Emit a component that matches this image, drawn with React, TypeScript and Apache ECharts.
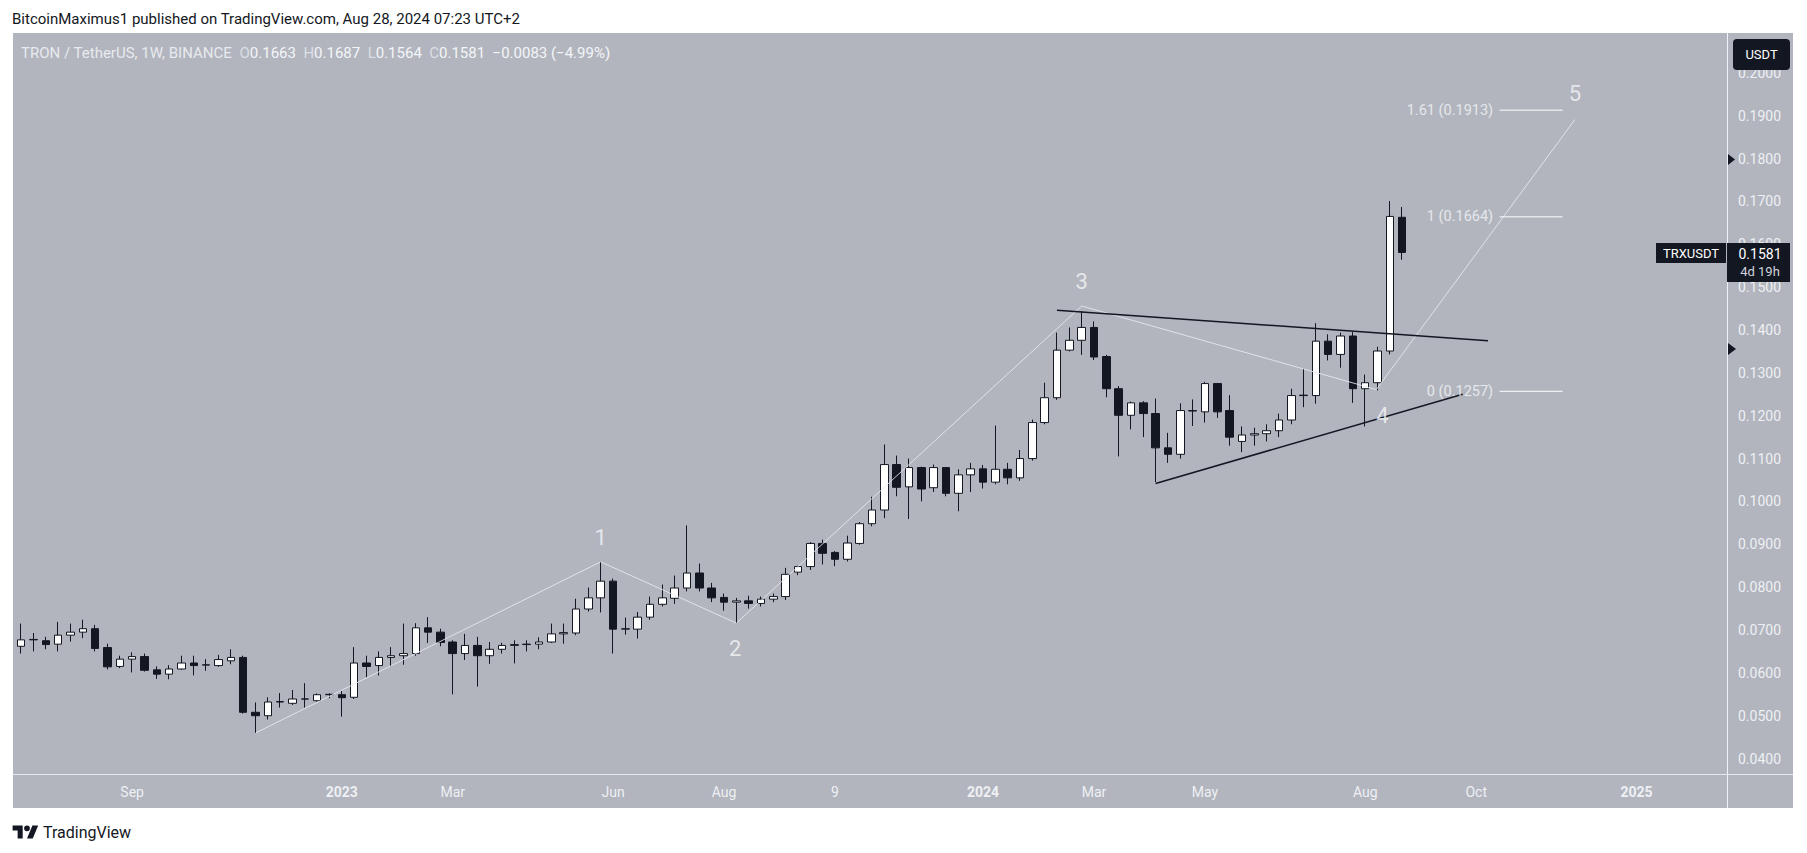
import React, { useEffect, useRef } from "react";
import * as echarts from "echarts";

// ---------- DATA ----------
const START_MS = Date.UTC(2022, 6, 4); // first weekly bar (Mon 4 Jul 2022)
const WEEK_COUNT = 139;
const categories: string[] = Array.from({ length: WEEK_COUNT }, (_, i) =>
  new Date(START_MS + i * 7 * 86400000).toISOString().slice(0, 10)
);

const opens = [
  0.0662, 0.0677, 0.0675, 0.0667, 0.0688, 0.0695, 0.0703, 0.0659, 0.0615, 0.0632,
  0.0638, 0.0607, 0.0597, 0.0609, 0.0623, 0.0618, 0.0617, 0.0628, 0.0636, 0.0508,
  0.0500, 0.0532, 0.0529, 0.0539, 0.0535, 0.0549, 0.0549, 0.0543, 0.0623, 0.0617,
  0.0636, 0.0640, 0.0645, 0.0705, 0.0695, 0.0672, 0.0645, 0.0664, 0.0640, 0.0655,
  0.0664, 0.0666, 0.0667, 0.0672, 0.0691, 0.0693, 0.0749, 0.0775, 0.0814, 0.0702,
  0.0702, 0.0730, 0.0760, 0.0774, 0.0798, 0.0833, 0.0798, 0.0776, 0.0765, 0.0768,
  0.0762, 0.0772, 0.0778, 0.0835, 0.0848, 0.0902, 0.0881, 0.0865, 0.0902, 0.0948,
  0.0980, 0.1086, 0.1034, 0.1079, 0.1032, 0.1079, 0.1019, 0.1062, 0.1076, 0.1045,
  0.1075, 0.1055, 0.1100, 0.1184, 0.1242, 0.1353, 0.1376, 0.1406, 0.1338, 0.1263,
  0.1201, 0.1230, 0.1205, 0.1125, 0.1110, 0.1211, 0.1209, 0.1275, 0.1212, 0.1140,
  0.1155, 0.1158, 0.1165, 0.1190, 0.1247, 0.1247, 0.1374, 0.1343, 0.1386, 0.1263,
  0.1277, 0.1351, 0.1663,
];
const closes = [
  0.0677, 0.0678, 0.0666, 0.0688, 0.0695, 0.0703, 0.0657, 0.0614, 0.0632, 0.0638,
  0.0606, 0.0597, 0.0609, 0.0623, 0.0617, 0.0619, 0.0631, 0.0636, 0.0508, 0.0500,
  0.0532, 0.0533, 0.0539, 0.0539, 0.0549, 0.0550, 0.0542, 0.0623, 0.0615, 0.0636,
  0.0640, 0.0645, 0.0705, 0.0695, 0.0671, 0.0645, 0.0664, 0.0640, 0.0655, 0.0664,
  0.0666, 0.0667, 0.0672, 0.0691, 0.0694, 0.0749, 0.0775, 0.0814, 0.0702, 0.0703,
  0.0730, 0.0760, 0.0775, 0.0798, 0.0833, 0.0798, 0.0775, 0.0765, 0.0768, 0.0762,
  0.0772, 0.0778, 0.0830, 0.0848, 0.0902, 0.0879, 0.0865, 0.0903, 0.0948, 0.0980,
  0.1086, 0.1033, 0.1079, 0.1029, 0.1079, 0.1019, 0.1062, 0.1076, 0.1045, 0.1075,
  0.1055, 0.1100, 0.1184, 0.1242, 0.1353, 0.1376, 0.1406, 0.1337, 0.1263, 0.1201,
  0.1230, 0.1205, 0.1125, 0.1110, 0.1212, 0.1212, 0.1275, 0.1209, 0.1150, 0.1155,
  0.1158, 0.1165, 0.1190, 0.1247, 0.1248, 0.1374, 0.1343, 0.1386, 0.1263, 0.1277,
  0.1351, 0.1665, 0.1581,
];
const lows = [
  0.0645, 0.0650, 0.0655, 0.0650, 0.0673, 0.0681, 0.0650, 0.0608, 0.0611, 0.0601,
  0.0603, 0.0586, 0.0585, 0.0607, 0.0594, 0.0605, 0.0614, 0.0620, 0.0505, 0.0460,
  0.0491, 0.0519, 0.0525, 0.0519, 0.0533, 0.0541, 0.0498, 0.0539, 0.0590, 0.0594,
  0.0615, 0.0619, 0.0640, 0.0670, 0.0662, 0.0550, 0.0630, 0.0568, 0.0621, 0.0645,
  0.0622, 0.0650, 0.0655, 0.0670, 0.0668, 0.0688, 0.0743, 0.0741, 0.0645, 0.0689,
  0.0680, 0.0724, 0.0755, 0.0761, 0.0790, 0.0790, 0.0765, 0.0745, 0.0716, 0.0750,
  0.0755, 0.0765, 0.0770, 0.0828, 0.0840, 0.0853, 0.0849, 0.0860, 0.0899, 0.0942,
  0.0961, 0.1012, 0.0959, 0.1000, 0.1022, 0.1012, 0.0977, 0.1022, 0.1030, 0.1040,
  0.1040, 0.1048, 0.1095, 0.1180, 0.1237, 0.1350, 0.1342, 0.1330, 0.1243, 0.1105,
  0.1168, 0.1150, 0.1045, 0.1090, 0.1100, 0.1176, 0.1184, 0.1195, 0.1130, 0.1115,
  0.1130, 0.1140, 0.1150, 0.1180, 0.1220, 0.1228, 0.1329, 0.1312, 0.1230, 0.1175,
  0.1259, 0.1343, 0.1564,
];
const highs = [
  0.0715, 0.0693, 0.0684, 0.0719, 0.0715, 0.0724, 0.0712, 0.0668, 0.0640, 0.0648,
  0.0645, 0.0615, 0.0618, 0.0640, 0.0640, 0.0632, 0.0642, 0.0655, 0.0640, 0.0531,
  0.0543, 0.0553, 0.0560, 0.0576, 0.0552, 0.0552, 0.0558, 0.0660, 0.0640, 0.0650,
  0.0660, 0.0715, 0.0716, 0.0730, 0.0703, 0.0676, 0.0691, 0.0684, 0.0672, 0.0670,
  0.0676, 0.0676, 0.0683, 0.0715, 0.0715, 0.0773, 0.0799, 0.0859, 0.0820, 0.0729,
  0.0742, 0.0778, 0.0806, 0.0827, 0.0944, 0.0855, 0.0810, 0.0785, 0.0775, 0.0780,
  0.0778, 0.0785, 0.0845, 0.0850, 0.0905, 0.0911, 0.0884, 0.0920, 0.0952, 0.1011,
  0.1133, 0.1107, 0.1100, 0.1081, 0.1086, 0.1079, 0.1075, 0.1090, 0.1085, 0.1177,
  0.1090, 0.1120, 0.1191, 0.1277, 0.1394, 0.1406, 0.1444, 0.1420, 0.1342, 0.1269,
  0.1233, 0.1234, 0.1240, 0.1160, 0.1229, 0.1238, 0.1279, 0.1275, 0.1248, 0.1175,
  0.1172, 0.1180, 0.1205, 0.1263, 0.1310, 0.1416, 0.1390, 0.1394, 0.1395, 0.1296,
  0.1361, 0.1701, 0.1687,
];

// x-axis tick labels (category index -> text)
const xTickLabels: Record<number, string> = {
  9: "Sep", 26: "2023", 35: "Mar", 48: "Jun", 57: "Aug", 66: "9",
  78: "2024", 87: "Mar", 96: "May", 109: "Aug", 118: "Oct", 131: "2025",
};
const yearTickIndices = [26, 78, 131];
const yTicks = [0.04, 0.05, 0.06, 0.07, 0.08, 0.09, 0.1, 0.11, 0.12, 0.13, 0.14, 0.15, 0.16, 0.17, 0.18, 0.19, 0.2];

// Elliott wave path (bar index, price)
const wavePoints: [number, number][] = [
  [19.03, 0.046], [47.0, 0.0859], [58.0, 0.0716], [86.0, 0.1456], [109.9, 0.1261], [126.0, 0.1891],
];
const waveLabels: { x: number; y: number; text: string }[] = [
  { x: 47.0, y: 0.0917, text: "1" },
  { x: 57.9, y: 0.0657, text: "2" },
  { x: 86.0, y: 0.1514, text: "3" },
  { x: 110.4, y: 0.1200, text: "4" },
  { x: 126.0, y: 0.1951, text: "5" },
];
const upperTrend: [number, number][] = [[84.0, 0.1446], [118.95, 0.1375]];
const lowerTrend: [number, number][] = [[92.0, 0.1042], [116.9, 0.125]];
const fibLevels = [
  { ratio: "1.61", value: 0.1913 },
  { ratio: "1", value: 0.1664 },
  { ratio: "0", value: 0.1257 },
];
const fibStart = 119.9;
const fibEnd = 125.0;

const Y_MIN = 0.0364;
const Y_MAX = 0.2093;

const TV_LOGO = "M14 22H7V11H0V4h14v18zM28 22h-8l7.5-18h8L28 22zM24 8a4 4 0 1 1-8 0a4 4 0 1 1 8 0z";

const FONT = "Roboto, 'Noto Sans', sans-serif";
const PANEL = "#b2b5be";
const DARK = "#131722";
const LIGHT = "#eef0f4";

export default function App() {
  const ref = useRef<HTMLDivElement>(null);

  useEffect(() => {
    if (!ref.current) return;
    try {
      echarts.graphic.registerShape("tvlogo", echarts.graphic.extendPath(TV_LOGO, {}));
    } catch (e) {}
    const chart = echarts.init(ref.current, undefined, { renderer: "svg" });

    const candleData = opens.map((o, i) => [o, closes[i], lows[i], highs[i]]);

    const option: any = {
      animation: false,
      backgroundColor: PANEL,
      grid: { left: 15, right: 78, top: 33, bottom: 79, containLabel: false },
      xAxis: [
        {
          type: "category",
          data: categories,
          boundaryGap: true,
          axisLine: { show: false },
          axisTick: { show: false },
          splitLine: { show: false },
          axisLabel: {
            interval: (index: number) => xTickLabels[index] !== undefined,
            formatter: (_v: string, index: number) => {
              const t = xTickLabels[index] ?? "";
              return yearTickIndices.includes(index) ? `{b|${t}}` : `{n|${t}}`;
            },
            margin: 11,
            rich: {
              n: { color: LIGHT, fontSize: 14, fontFamily: FONT },
              b: { color: LIGHT, fontSize: 14, fontFamily: FONT, fontWeight: "bold" },
            },
          },
        },
        {
          type: "value",
          min: -0.5,
          max: 138.5,
          show: false,
        },
      ],
      yAxis: [
        {
          type: "value",
          position: "right",
          min: Y_MIN,
          max: Y_MAX,
          axisLine: { show: false },
          axisTick: { show: false },
          splitLine: { show: false },
          axisLabel: {
            customValues: yTicks,
            formatter: (v: number) => v.toFixed(4),
            color: LIGHT,
            fontSize: 14,
            fontFamily: FONT,
            margin: 9,
          },
        },
      ],
      series: [
        {
          type: "candlestick",
          name: "TRXUSDT",
          xAxisIndex: 0,
          yAxisIndex: 0,
          data: candleData,
          barWidth: 8,
          itemStyle: {
            color: "#ffffff",
            color0: DARK,
            borderColor: DARK,
            borderColor0: DARK,
            borderWidth: 1,
          },
        },
        {
          type: "line",
          name: "wave",
          xAxisIndex: 1,
          yAxisIndex: 0,
          data: wavePoints,
          symbol: "none",
          lineStyle: { color: "rgba(232,234,240,0.85)", width: 1 },
          z: 3,
        },
        {
          type: "line",
          name: "upper",
          xAxisIndex: 1,
          yAxisIndex: 0,
          data: upperTrend,
          symbol: "none",
          lineStyle: { color: DARK, width: 1.5 },
          z: 4,
        },
        {
          type: "line",
          name: "lower",
          xAxisIndex: 1,
          yAxisIndex: 0,
          data: lowerTrend,
          symbol: "none",
          lineStyle: { color: DARK, width: 1.5 },
          z: 4,
        },
        ...fibLevels.map((f) => ({
          type: "line",
          name: "fib" + f.ratio,
          xAxisIndex: 1,
          yAxisIndex: 0,
          data: [[fibStart, f.value], [fibEnd, f.value]],
          symbol: "none",
          lineStyle: { color: "#ffffff", width: 1 },
          z: 4,
        })),
        {
          type: "scatter",
          name: "fibLabels",
          xAxisIndex: 1,
          yAxisIndex: 0,
          data: fibLevels.map((f) => [fibStart, f.value]),
          symbolSize: 1,
          itemStyle: { color: "rgba(0,0,0,0)" },
          label: {
            show: true,
            position: "left",
            distance: 6,
            formatter: (p: any) => {
              const f = fibLevels[p.dataIndex];
              return `${f.ratio} (${f.value.toFixed(4)})`;
            },
            color: "#f4f5f8",
            fontSize: 14.5,
            fontFamily: FONT,
          },
          z: 5,
        },
        {
          type: "scatter",
          name: "waveLabels",
          xAxisIndex: 1,
          yAxisIndex: 0,
          data: waveLabels.map((w) => [w.x, w.y]),
          symbolSize: 1,
          itemStyle: { color: "rgba(0,0,0,0)" },
          label: {
            show: true,
            position: "inside",
            formatter: (p: any) => waveLabels[p.dataIndex].text,
            color: "#f4f5f8",
            fontSize: 22,
            fontFamily: FONT,
          },
          z: 5,
        },
      ],
      graphic: [
        // white frame outside the panel
        { type: "rect", z: 50, shape: { x: 0, y: 0, width: 1807, height: 33 }, style: { fill: "#ffffff" } },
        { type: "rect", z: 50, shape: { x: 0, y: 808, width: 1807, height: 45 }, style: { fill: "#ffffff" } },
        { type: "rect", z: 50, shape: { x: 0, y: 0, width: 13, height: 853 }, style: { fill: "#ffffff" } },
        { type: "rect", z: 50, shape: { x: 1793, y: 0, width: 14, height: 853 }, style: { fill: "#ffffff" } },
        // separators
        { type: "line", z: 51, shape: { x1: 1727.5, y1: 33, x2: 1727.5, y2: 808 }, style: { stroke: "#f0f3fa", lineWidth: 1 } },
        { type: "line", z: 51, shape: { x1: 13, y1: 774.5, x2: 1793, y2: 774.5 }, style: { stroke: "#e6e8ee", lineWidth: 1 } },
        // header
        {
          type: "text", z: 60, x: 12, y: 19,
          style: {
            text: "BitcoinMaximus1 published on TradingView.com, Aug 28, 2024 07:23 UTC+2",
            fill: DARK, fontSize: 15, fontFamily: FONT, verticalAlign: "middle",
          },
        },
        {
          type: "text", z: 60, x: 21, y: 53,
          style: {
            text: "{t|TRON / TetherUS, 1W, BINANCE}  {k|O}{v|0.1663}  {k|H}{v|0.1687}  {k|L}{v|0.1564}  {k|C}{v|0.1581}  {v|−0.0083 (−4.99%)}",
            fontFamily: FONT, fontSize: 15, verticalAlign: "middle",
            rich: {
              t: { fill: "#e8eaee", fontSize: 15, fontFamily: FONT },
              k: { fill: "#dcdee4", fontSize: 15, fontFamily: FONT },
              v: { fill: "#f4f5f8", fontSize: 15, fontFamily: FONT },
            },
          },
        },
        // USDT button
        { type: "rect", z: 60, shape: { x: 1733, y: 39, width: 57, height: 31, r: 4 }, style: { fill: DARK } },
        {
          type: "text", z: 61, x: 1761.5, y: 54.5,
          style: { text: "USDT", fill: "#ffffff", fontSize: 13, fontFamily: FONT, align: "center", verticalAlign: "middle" },
        },
        // axis markers
        { type: "polygon", z: 60, shape: { points: [[1728, 154], [1735, 159.5], [1728, 165]] }, style: { fill: DARK } },
        { type: "polygon", z: 60, shape: { points: [[1728, 343], [1736, 349], [1728, 355]] }, style: { fill: DARK } },
        // last price labels
        { type: "rect", z: 60, shape: { x: 1656, y: 243, width: 70, height: 20 }, style: { fill: DARK } },
        {
          type: "text", z: 61, x: 1691, y: 253.5,
          style: { text: "TRXUSDT", fill: "#ffffff", fontSize: 13, fontFamily: FONT, align: "center", verticalAlign: "middle" },
        },
        { type: "rect", z: 60, shape: { x: 1727, y: 243, width: 63, height: 39 }, style: { fill: DARK } },
        {
          type: "text", z: 61, x: 1760, y: 253.5,
          style: { text: "0.1581", fill: "#ffffff", fontSize: 14, fontFamily: FONT, align: "center", verticalAlign: "middle" },
        },
        {
          type: "text", z: 61, x: 1760, y: 271.5,
          style: { text: "4d 19h", fill: "#d1d4dc", fontSize: 13, fontFamily: FONT, align: "center", verticalAlign: "middle" },
        },
        // TradingView logo
        { type: "tvlogo", z: 60, x: 12.6, y: 822.6, scaleX: 0.72, scaleY: 0.72, style: { fill: DARK } },
        {
          type: "text", z: 60, x: 43, y: 832,
          style: { text: "TradingView", fill: DARK, fontSize: 16, fontFamily: FONT, verticalAlign: "middle" },
        },
      ],
    };

    chart.setOption(option);
    return () => chart.dispose();
  }, []);

  return (
    <div
      ref={ref}
      style={{ position: "fixed", left: 0, top: 0, width: 1807, height: 853 }}
    />
  );
}
